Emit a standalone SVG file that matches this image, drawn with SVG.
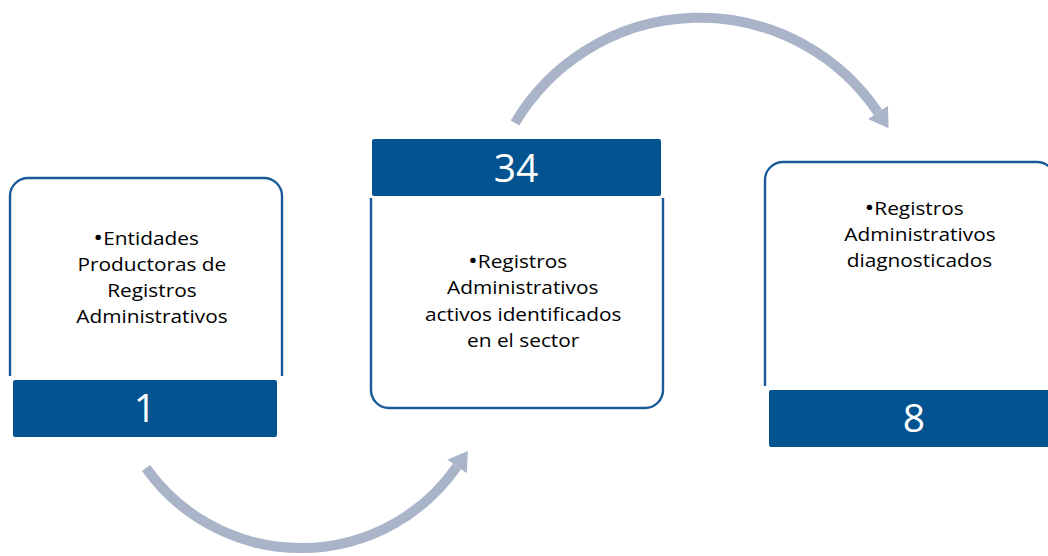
<svg xmlns="http://www.w3.org/2000/svg" width="1048" height="556" viewBox="0 0 1048 556">
<style>
.box{fill:#ffffff;stroke:#1A5A98;stroke-width:2.4}
.bar{fill:#02538F;stroke:#ffffff;stroke-width:2}
.body{font-family:"Open Sans","Liberation Sans",Arial,sans-serif;font-size:17.5px;fill:#000000;text-anchor:middle}
.bul{font-size:22px}
.num{font-family:"Open Sans","Liberation Sans",Arial,sans-serif;font-size:39px;fill:#ffffff;text-anchor:middle}
.arc{fill:none;stroke:#AAB4C8;stroke-width:10}
</style>
<defs>
<marker id="head" markerUnits="userSpaceOnUse" markerWidth="24" markerHeight="26" refX="0" refY="12" orient="auto" viewBox="0 0 24 24">
<path d="M0,0 L19,12 L0,24 z" fill="#AAB4C8"/>
</marker>
</defs>
<rect width="1048" height="556" fill="#ffffff"/>
<g id="connectors">
<path class="arc" d="M146,468 A190,190 0 0 0 457,466.5" marker-end="url(#head)"/>
<path class="arc" d="M515,123 A215,215 0 0 1 878,112.4" marker-end="url(#head)"/>
</g>
<g id="node1">
<path class="box" d="M10,376 V196 A18,18 0 0 1 28,178 H264 A18,18 0 0 1 282,196 V376"/>
<rect class="bar" x="12" y="379" width="266" height="59" rx="3"/>
<text class="num" x="145" y="422">1</text>
<g transform="translate(150,0) scale(1.19,1)">
<text class="body" x="-3.3" y="245"><tspan class="bul">•</tspan>Entidades</text>
<text class="body" x="1.6" y="271">Productoras de</text>
<text class="body" x="1.6" y="297">Registros</text>
<text class="body" x="1.6" y="323">Administrativos</text>
</g>
</g>
<g id="node2">
<path class="box" d="M371,198 V390 A18,18 0 0 0 389,408 H645 A18,18 0 0 0 663,390 V198"/>
<rect class="bar" x="371" y="138" width="291" height="59" rx="3"/>
<text class="num" x="516" y="182">34</text>
<g transform="translate(522,0) scale(1.19,1)">
<text class="body" x="-3.7" y="268"><tspan class="bul">•</tspan>Registros</text>
<text class="body" x="0.6" y="294.5">Administrativos</text>
<text class="body" x="1" y="321">activos identificados</text>
<text class="body" x="1" y="347">en el sector</text>
</g>
</g>
<g id="node3">
<path class="box" d="M765,386 V180 A18,18 0 0 1 783,162 H1037 A18,18 0 0 1 1055,180 V386"/>
<rect class="bar" x="768" y="389" width="290" height="59" rx="3"/>
<text class="num" x="914" y="432">8</text>
<g transform="translate(918,0) scale(1.19,1)">
<text class="body" x="-3.3" y="215"><tspan class="bul">•</tspan>Registros</text>
<text class="body" x="1.6" y="241">Administrativos</text>
<text class="body" x="1.2" y="267">diagnosticados</text>
</g>
</g>
</svg>
